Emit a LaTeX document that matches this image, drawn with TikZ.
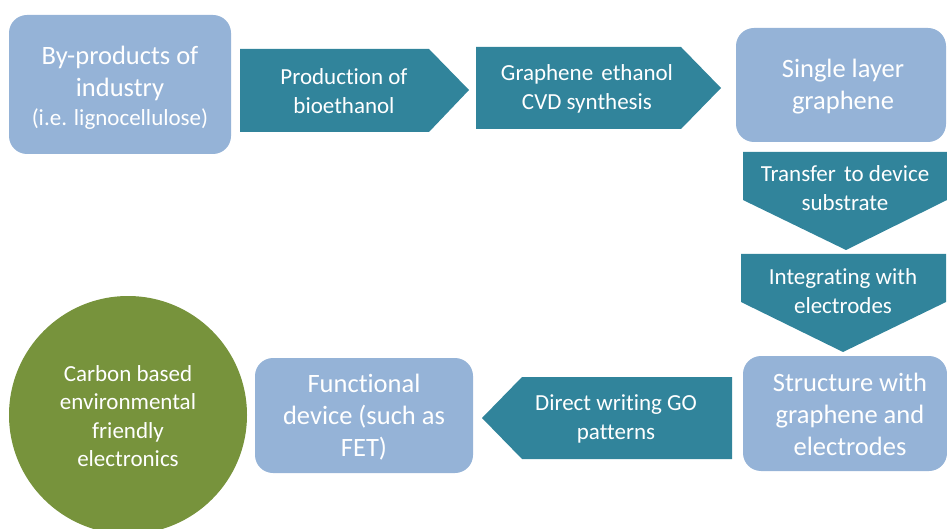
\documentclass[tikz,border=0pt]{standalone}
\usepackage{fontspec}
\setmainfont[Ligatures=NoCommon]{Carlito}
\definecolor{boxblue}{HTML}{95B3D7}
\definecolor{arrowteal}{HTML}{31849B}
\definecolor{leafgreen}{HTML}{77933C}
\tikzset{
  stagebox/.style={fill=boxblue,rounded corners=18pt},
  stepshape/.style={fill=arrowteal},
  bigtext/.style={text=white,align=center,yshift=-2pt,font=\fontsize{26.5}{32}\selectfont},
  smalltext/.style={text=white,align=center,yshift=-1pt,font=\fontsize{23}{28.5}\selectfont}
}
\begin{document}
\begin{tikzpicture}[x=1pt,y=-1pt]
\useasboundingbox (0,0) rectangle (947,529);
% rounded boxes
\fill[stagebox] (9,15) rectangle (231,154);
\fill[stagebox] (736,28) rectangle (946,142);
\fill[stagebox] (743,356) rectangle (947,471);
\fill[stagebox] (255,358) rectangle (473,473);
% arrow shapes
\fill[stepshape] (240,49) -- (429,49) -- (469,90) -- (429,132) -- (240,132) -- cycle;
\fill[stepshape] (476,47) -- (681,47) -- (721,88) -- (681,129) -- (476,129) -- cycle;
\fill[stepshape] (743,152) -- (947,152) -- (947,200) -- (846,250) -- (743,200) -- cycle;
\fill[stepshape] (741,254) -- (946,254) -- (946,302) -- (843,352) -- (741,302) -- cycle;
\fill[stepshape] (732,377) -- (522,377) -- (482,418) -- (522,459) -- (732,459) -- cycle;
% end goal
\fill[leafgreen] (128,415) circle (119);
% texts
\node[bigtext] (byproducts) at (120,86) {By-products of\\industry\\[-3pt]{\fontsize{23}{28}\selectfont(i.e. lignocellulose)}};
\node[smalltext] (bioethanol) at (344,90) {Production of\\bioethanol};
\node[smalltext] (cvd) at (587,88) {Graphene\hspace{3pt} ethanol\\CVD synthesis};
\node[bigtext] (graphene) at (843,85) {Single layer\\graphene};
\node[smalltext] (transfer) at (845,187) {Transfer\hspace{3pt} to device\\substrate};
\node[smalltext] (integrating) at (843,290) {Integrating with\\electrodes};
\node[bigtext] (structure) at (850,412) {Structure with\\graphene and\\electrodes};
\node[smalltext] (writing) at (616,418) {Direct writing GO\\patterns};
\node[bigtext] (device) at (364,415) {Functional\\device (such as\\FET)};
\node[smalltext] (electronics) at (128,415) {Carbon based\\environmental\\friendly\\electronics};
\end{tikzpicture}
\end{document}
